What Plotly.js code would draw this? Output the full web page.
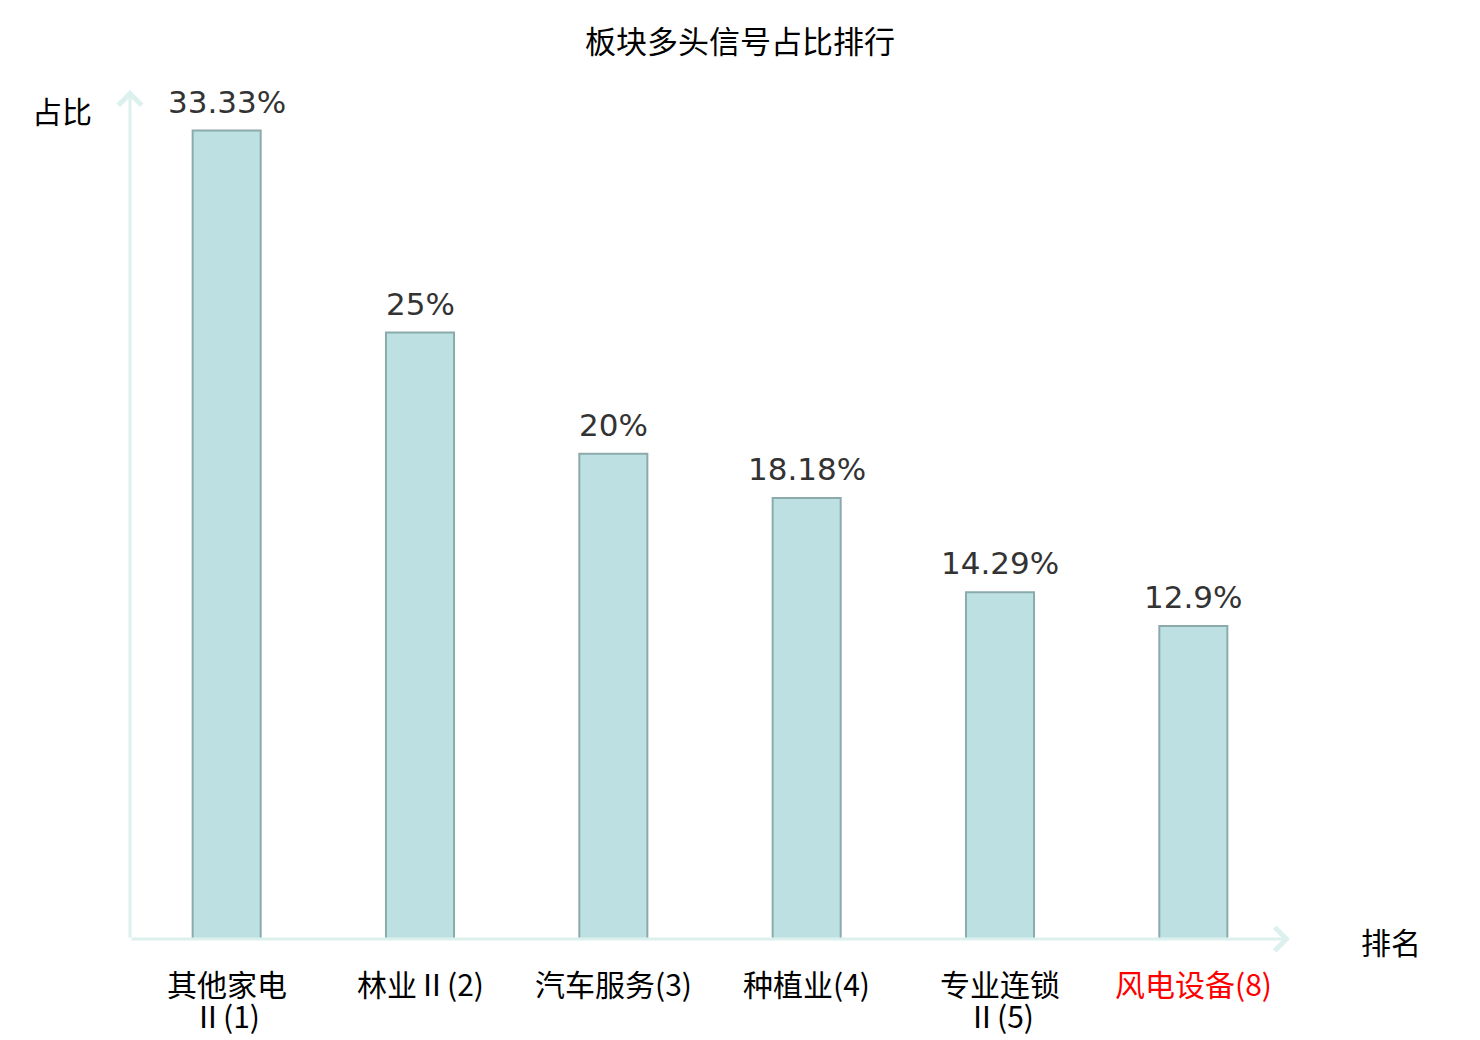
<!DOCTYPE html>
<html>
<head>
<meta charset="utf-8">
<script src="https://cdn.plot.ly/plotly-3.0.1.min.js"></script>
<style>
  html, body { margin: 0; padding: 0; background: #fff; }
  #chart { width: 1480px; height: 1040px; }
</style>
</head>
<body>
<div id="chart"></div>
<script>
// sector names and rank in the list
const sectors = ["其他家电Ⅱ", "林业Ⅱ", "汽车服务", "种植业", "专业连锁Ⅱ", "风电设备"];
const ranks = [1, 2, 3, 4, 5, 8];
// share of long signals, percent
const shares = [33.33, 25, 20, 18.18, 14.29, 12.9];
// labels that wrap onto two lines, and the one shown in red
const wrapped = [true, false, false, false, true, false];
const highlight = [false, false, false, false, false, true];

const cjk = '"Noto Sans CJK SC", "Noto Sans", sans-serif';
const num = '"DejaVu Sans", sans-serif';

let trace = {
    type: "bar",
    x: sectors,
    y: shares,
    marker: {
        color: "#bde0e3",
        line: { color: "#8caaab", width: 2 }
    },
    hoverinfo: "none"
};

let valueLabels = sectors.map((s, i) => ({
    x: s,
    y: shares[i],
    xref: "x",
    yref: "y",
    text: shares[i] + "%",
    showarrow: false,
    yanchor: "bottom",
    yshift: 9,
    font: { family: num, size: 31, color: "#333" }
}));

// category labels under the axis, one annotation per line
let catLabels = [];
sectors.forEach((s, i) => {
    let color = highlight[i] ? "#f00" : "#000";
    let lines = wrapped[i] ? [s.slice(0, -1), s.slice(-1) + "(" + ranks[i] + ")"]
                           : [s + "(" + ranks[i] + ")"];
    lines.forEach((line, k) => {
        catLabels.push({
            x: s, y: 0, xref: "x", yref: "y",
            text: line, showarrow: false,
            xanchor: "center", yanchor: "middle",
            yshift: -44 - 32 * k,
            font: { family: cjk, size: 30, color: color }
        });
    });
});

let axisLines = [
    {   // x axis with arrow
        xref: "paper", yref: "paper", x: 1, y: 0,
        axref: "pixel", ayref: "pixel", ax: -1160, ay: 0,
        showarrow: true, arrowhead: 4, arrowsize: 1.5, arrowwidth: 3,
        arrowcolor: "#dcf1ee", text: ""
    },
    {   // y axis with arrow
        xref: "paper", yref: "paper", x: 0, y: 1,
        axref: "pixel", ayref: "pixel", ax: 0, ay: 849,
        showarrow: true, arrowhead: 4, arrowsize: 1.5, arrowwidth: 3,
        arrowcolor: "#dcf1ee", text: ""
    },
    {
        xref: "paper", yref: "paper", x: -0.059, y: 0.976,
        text: "占比", showarrow: false,
        xanchor: "center", yanchor: "middle",
        font: { family: cjk, size: 30, color: "#000" }
    },
    {
        xref: "paper", yref: "paper", x: 1.087, y: -0.002,
        text: "排名", showarrow: false,
        xanchor: "center", yanchor: "middle",
        font: { family: cjk, size: 30, color: "#000" }
    }
];

let layout = {
    width: 1480,
    height: 1040,
    paper_bgcolor: "#fff",
    plot_bgcolor: "#fff",
    margin: { l: 130, r: 190, t: 90, b: 101, pad: 0 },
    title: {
        text: "板块多头信号占比排行",
        x: 0.5,
        xanchor: "center",
        y: 1 - 42 / 1040,
        yanchor: "middle",
        font: { family: cjk, size: 31, color: "#000" }
    },
    bargap: 0.648,
    showlegend: false,
    xaxis: {
        showticklabels: false,
        ticks: "",
        showline: false,
        showgrid: false,
        zeroline: false,
        fixedrange: true
    },
    yaxis: {
        range: [0, 35],
        showticklabels: false,
        showgrid: false,
        zeroline: false,
        showline: false,
        ticks: "",
        fixedrange: true
    },
    annotations: axisLines.concat(valueLabels, catLabels)
};

Plotly.newPlot(document.querySelector("#chart"), [trace], layout, { displayModeBar: false, staticPlot: true });
</script>
</body>
</html>
